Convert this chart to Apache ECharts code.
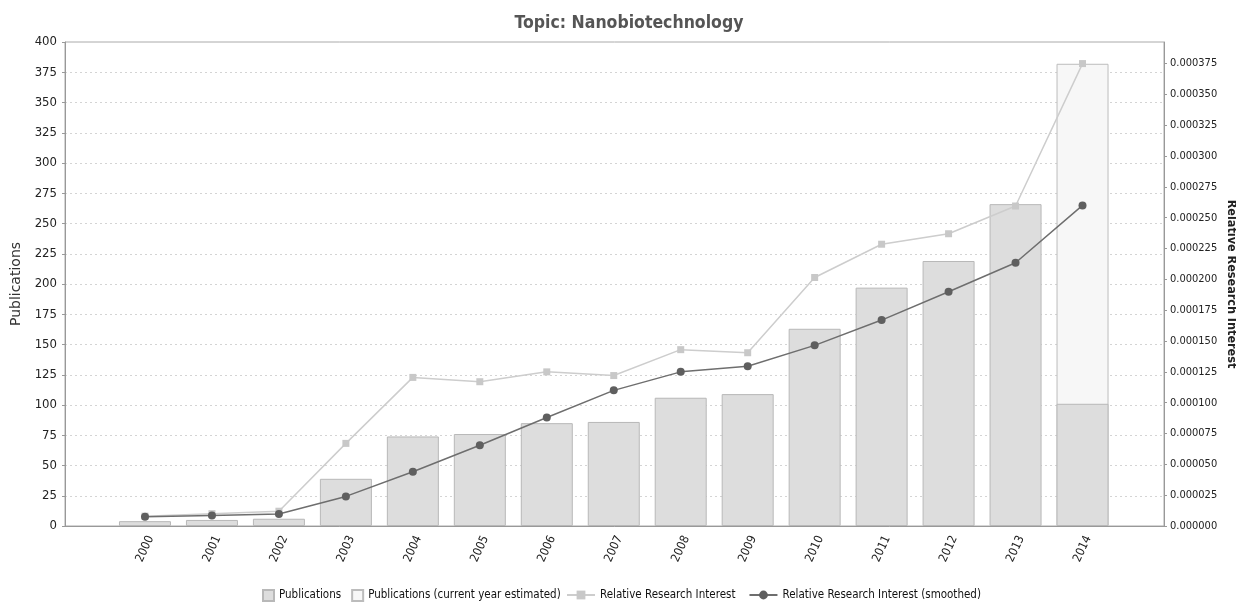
<!DOCTYPE html>
<html>
<head>
<meta charset="utf-8">
<script src="https://cdn.jsdelivr.net/npm/echarts@6/dist/echarts.min.js"></script>
<style>
  html, body { margin: 0; padding: 0; background: #fff; }
  #main { width: 1236px; height: 603px; }
</style>
</head>
<body>
<div id="main"></div>
<script>
var years = ['2000','2001','2002','2003','2004','2005','2006','2007','2008','2009','2010','2011','2012','2013','2014'];
var publications = [4, 5, 6, 39, 74, 76, 85, 86, 106, 109, 163, 197, 219, 266, 101];
var estimated = [null, null, null, null, null, null, null, null, null, null, null, null, null, null, 382];
var interest = [8.0e-6, 10.0e-6, 12.0e-6, 67.0e-6, 120.5e-6, 117.0e-6, 125.0e-6, 122.0e-6, 143.0e-6, 140.5e-6, 201.5e-6, 228.5e-6, 237.0e-6, 259.5e-6, 375.0e-6];
var smoothed = [7.5e-6, 8.6e-6, 9.7e-6, 24.0e-6, 44.0e-6, 65.5e-6, 88.0e-6, 110.0e-6, 125.0e-6, 129.5e-6, 146.5e-6, 167.0e-6, 190.0e-6, 213.5e-6, 260.0e-6];

var chart = echarts.init(document.getElementById('main'));
var tickFont = "'DejaVu Sans Condensed', 'Liberation Sans', sans-serif";
var legendText = { fontFamily: tickFont, fontSize: 11.5, color: '#111' };

var option = {
    animation: false,
    title: {
        text: 'Topic: Nanobiotechnology',
        left: 624,
        top: 9,
        textAlign: 'center',
        textStyle: { fontFamily: tickFont, fontSize: 17.5, fontWeight: 'bold', color: '#555' }
    },
    legend: [
        {
            left: 257, top: 584,
            itemWidth: 11, itemHeight: 11, itemGap: 10,
            textStyle: legendText,
            data: [
                { name: 'Publications', icon: 'rect' },
                { name: 'Publications (current year estimated)', icon: 'rect' }
            ]
        },
        {
            left: 561, top: 584,
            itemWidth: 28, itemHeight: 11, itemGap: 13,
            textStyle: legendText,
            data: ['Relative Research Interest', 'Relative Research Interest (smoothed)']
        }
    ],
    grid: [
        // frame with axes + grid lines
        { left: 65, right: 72, top: 42, bottom: 77, show: true, borderColor: '#aaa', borderWidth: 1, outerBoundsMode: 'none' },
        // band for the bars and lines
        { left: 111.5, right: 120, top: 42, bottom: 77, outerBoundsMode: 'none' }
    ],
    xAxis: [
        {
            gridIndex: 0, type: 'category', data: years,
            axisLine: { lineStyle: { color: '#999' } },
            axisTick: { show: false }, axisLabel: { show: false }
        },
        {
            gridIndex: 1, type: 'category', data: years,
            axisLine: { show: false }, axisTick: { show: false },
            axisLabel: {
                rotate: 65, align: 'center', verticalAlign: 'middle', margin: 23,
                fontFamily: tickFont, fontSize: 12, color: '#222'
            }
        }
    ],
    yAxis: [
        {
            gridIndex: 0, type: 'value', position: 'left', min: 0, max: 400, interval: 25,
            name: 'Publications', nameLocation: 'middle', nameGap: 42,
            nameTextStyle: { fontFamily: 'DejaVu Sans', fontSize: 14, color: '#333' },
            axisLine: { show: true, lineStyle: { color: '#999' } },
            axisTick: { show: true, length: 3, lineStyle: { color: '#999' } },
            axisLabel: { margin: 8, fontFamily: tickFont, fontSize: 13, color: '#222' },
            splitLine: { lineStyle: { type: [2, 3], color: '#d4d4d4' } }
        },
        {
            gridIndex: 0, type: 'value', position: 'right', min: 0, max: 0.0003925, interval: 0.000025,
            name: 'Relative Research Interest', nameLocation: 'middle', nameGap: 61, nameRotate: -90,
            nameMoveOverlap: false,
            nameTextStyle: { fontFamily: tickFont, fontSize: 12.5, fontWeight: 'bold', color: '#222' },
            axisLine: { show: true, lineStyle: { color: '#999' } },
            axisTick: { show: true, length: 3, lineStyle: { color: '#999' } },
            axisLabel: {
                margin: 6, fontFamily: tickFont, fontSize: 11, color: '#222', showMaxLabel: false,
                formatter: function (v) { return v.toFixed(6); }
            },
            splitLine: { show: false }
        },
        { gridIndex: 1, type: 'value', min: 0, max: 400, show: false },
        { gridIndex: 1, type: 'value', min: 0, max: 0.0003925, show: false }
    ],
    series: [
        {
            name: 'Publications', type: 'bar', xAxisIndex: 1, yAxisIndex: 2,
            data: publications, barWidth: 52, barGap: '-100%', z: 3,
            itemStyle: { color: '#dddddd', borderColor: '#b8b8b8', borderWidth: 1 }
        },
        {
            name: 'Publications (current year estimated)', type: 'bar', xAxisIndex: 1, yAxisIndex: 2,
            data: estimated, barWidth: 52, barGap: '-100%', z: 2,
            itemStyle: { color: '#f7f7f7', borderColor: '#bcbcbc', borderWidth: 1 }
        },
        {
            name: 'Relative Research Interest', type: 'line', xAxisIndex: 1, yAxisIndex: 3,
            data: interest, symbol: 'rect', symbolSize: 7, z: 4,
            lineStyle: { color: '#cdcdcd', width: 1.5 },
            itemStyle: { color: '#c8c8c8' }
        },
        {
            name: 'Relative Research Interest (smoothed)', type: 'line', xAxisIndex: 1, yAxisIndex: 3,
            data: smoothed, symbol: 'circle', symbolSize: 8, z: 5,
            lineStyle: { color: '#6e6e6e', width: 1.5 },
            itemStyle: { color: '#5f5f5f' }
        }
    ]
};

chart.setOption(option);
</script>
</body>
</html>
